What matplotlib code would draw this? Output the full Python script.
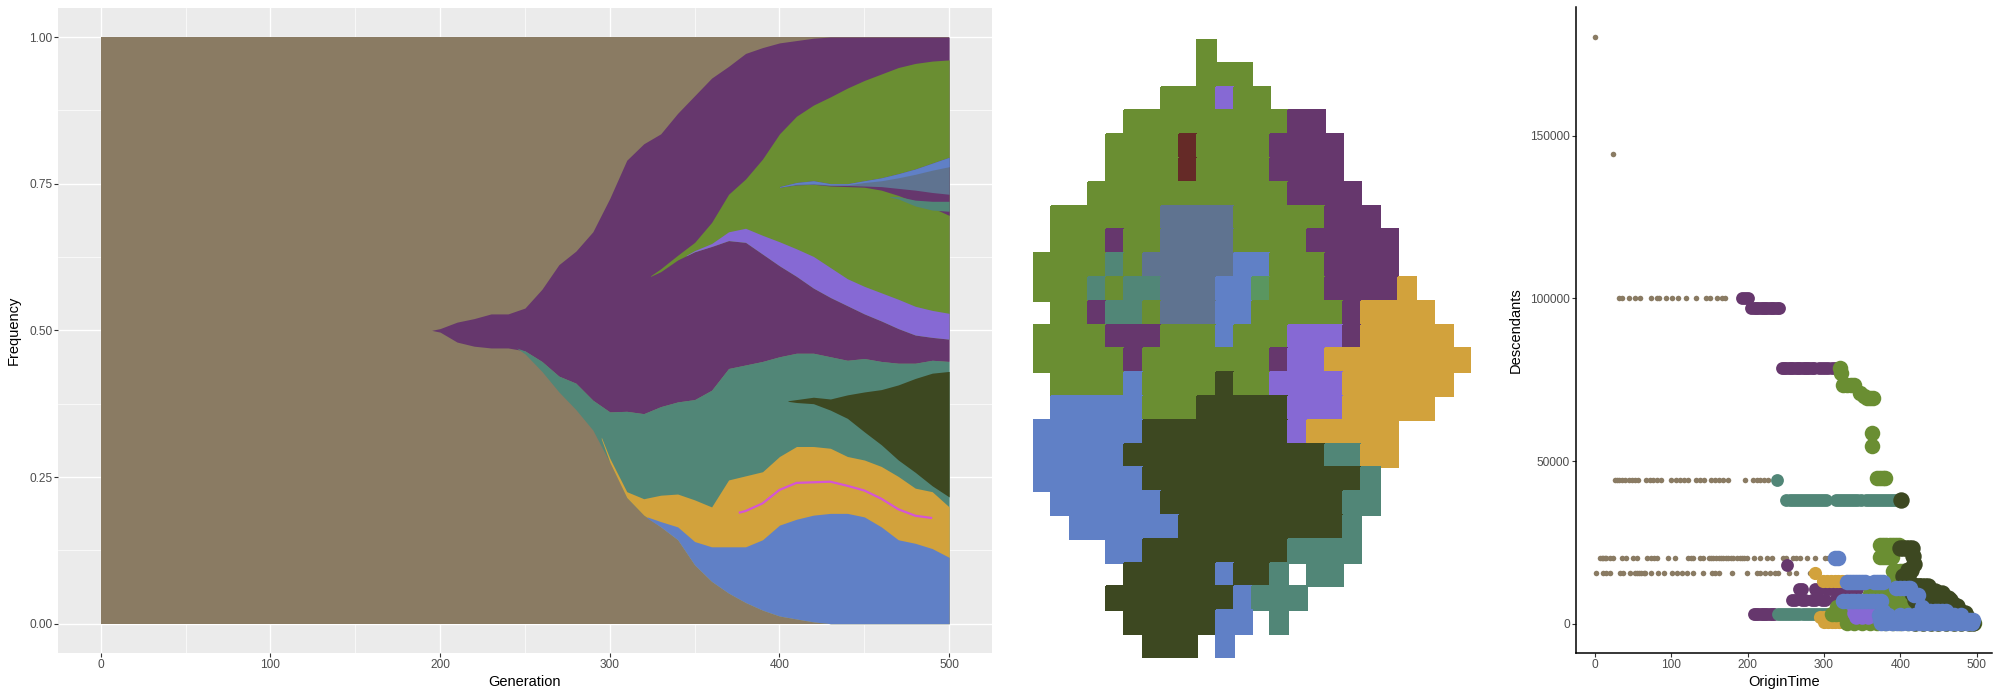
import numpy as np
import matplotlib
matplotlib.use("Agg")
from matplotlib import pyplot as plt
from matplotlib.colors import ListedColormap

plt.rcParams["font.family"] = ["Liberation Sans", "DejaVu Sans"]

# clone colours
c_tan = "#8A7B63"
c_purple = "#66376D"
c_teal = "#518677"
c_gold = "#D2A23C"
c_blue = "#6080C6"
c_dark = "#3D4821"
c_green = "#6A8E32"
c_lav = "#8669D4"
c_slate = "#5F7390"
c_red = "#652A27"
c_mgreen = "#5A9660"
c_magenta = "#D455D4"

# ---------------- Muller plot (frequency bands) ----------------
gen_purple = [195, 200, 210, 220, 230, 240, 250, 260, 270, 280, 290, 300, 310, 320, 330, 340,
              350, 360, 370, 380, 390, 400, 410, 420, 430, 440, 450, 460, 470, 480, 490, 500]
purple_lo = [0.500, 0.497, 0.480, 0.473, 0.470, 0.470, 0.465, 0.447, 0.422, 0.410, 0.381, 0.361,
             0.362, 0.358, 0.370, 0.378, 0.382, 0.398, 0.435, 0.441, 0.447, 0.455, 0.461, 0.461,
             0.455, 0.449, 0.452, 0.447, 0.444, 0.444, 0.449, 0.447]
purple_hi = [0.500, 0.503, 0.514, 0.520, 0.528, 0.528, 0.538, 0.570, 0.612, 0.635, 0.668, 0.725,
             0.790, 0.818, 0.835, 0.870, 0.900, 0.930, 0.950, 0.972, 0.982, 0.990, 0.994, 0.998,
             1.0, 1.0, 1.0, 1.0, 1.0, 1.0, 1.0, 1.0]

gen_teal = [245, 250, 260, 270, 280, 290, 300, 310, 320, 330, 340, 350, 360, 370, 380, 390,
            400, 410, 420, 430, 440, 450, 460, 470, 480, 490, 500]
teal_lo = [0.470, 0.460, 0.430, 0.395, 0.365, 0.330, 0.275, 0.215, 0.185, 0.165, 0.143, 0.100,
           0.072, 0.052, 0.036, 0.023, 0.013, 0.008, 0.003, 0, 0, 0, 0, 0, 0, 0, 0]
teal_hi = [0.470, 0.465, 0.447, 0.422, 0.410, 0.381, 0.361, 0.362, 0.358, 0.370, 0.378, 0.382,
           0.398, 0.435, 0.441, 0.447, 0.455, 0.461, 0.461, 0.455, 0.449, 0.452, 0.447, 0.444,
           0.444, 0.449, 0.447]

gen_gold = [295, 300, 310, 320, 330, 340, 350, 360, 370, 380, 390, 400, 410, 420, 430, 440,
            450, 460, 470, 480, 490, 500]
gold_lo = [0.315, 0.275, 0.215, 0.185, 0.165, 0.143, 0.100, 0.072, 0.052, 0.036, 0.023, 0.013,
           0.008, 0.003, 0, 0, 0, 0, 0, 0, 0, 0]
gold_hi = [0.318, 0.282, 0.225, 0.213, 0.219, 0.221, 0.211, 0.199, 0.245, 0.252, 0.259, 0.285,
           0.302, 0.302, 0.299, 0.285, 0.279, 0.268, 0.251, 0.231, 0.225, 0.199]

gen_blue = [322, 330, 340, 350, 360, 370, 380, 390, 400, 410, 420, 430, 440, 450, 460, 470,
            480, 490, 500]
blue_lo = [0.180, 0.165, 0.143, 0.100, 0.072, 0.052, 0.036, 0.023, 0.013, 0.008, 0.003,
           0, 0, 0, 0, 0, 0, 0, 0]
blue_hi = [0.182, 0.174, 0.165, 0.140, 0.131, 0.131, 0.131, 0.143, 0.168, 0.178, 0.185, 0.188,
           0.188, 0.182, 0.165, 0.143, 0.137, 0.128, 0.113]

gen_mag = [376, 380, 390, 400, 410, 420, 430, 440, 450, 460, 470, 480, 490]
mag_mid = [0.189, 0.192, 0.205, 0.228, 0.240, 0.241, 0.242, 0.235, 0.227, 0.213, 0.195, 0.184, 0.180]

gen_dark = [405, 410, 420, 430, 440, 450, 460, 470, 480, 490, 500]
dark_lo = [0.379, 0.377, 0.375, 0.364, 0.350, 0.327, 0.305, 0.279, 0.258, 0.235, 0.216]
dark_hi = [0.380, 0.382, 0.386, 0.383, 0.390, 0.395, 0.399, 0.407, 0.418, 0.427, 0.430]

gen_green = [324, 330, 340, 350, 360, 370, 380, 390, 400, 410, 420, 430, 440, 450, 460, 470,
             480, 490, 500]
green_lo = [0.592, 0.600, 0.620, 0.634, 0.643, 0.653, 0.650, 0.630, 0.610, 0.592, 0.572, 0.556,
            0.542, 0.528, 0.516, 0.503, 0.492, 0.488, 0.485]
green_hi = [0.593, 0.605, 0.628, 0.650, 0.684, 0.732, 0.758, 0.792, 0.835, 0.865, 0.884, 0.898,
            0.913, 0.926, 0.937, 0.948, 0.955, 0.959, 0.961]

gen_lav = [345, 350, 360, 370, 380, 390, 400, 410, 420, 430, 440, 450, 460, 470, 480, 490, 500]
lav_lo = [0.627, 0.634, 0.643, 0.653, 0.650, 0.630, 0.610, 0.592, 0.572, 0.556, 0.542, 0.528,
          0.516, 0.503, 0.492, 0.488, 0.485]
lav_hi = [0.628, 0.636, 0.648, 0.668, 0.674, 0.662, 0.651, 0.639, 0.626, 0.607, 0.588, 0.575,
          0.564, 0.553, 0.541, 0.534, 0.529]

gen_band = [400, 410, 420, 430, 440, 450, 460, 470, 480, 490, 500]
band_lo = [0.744, 0.748, 0.749, 0.746, 0.745, 0.744, 0.739, 0.730, 0.719, 0.709, 0.696]
band_hi = [0.745, 0.752, 0.755, 0.750, 0.750, 0.755, 0.760, 0.767, 0.775, 0.785, 0.795]
slate_lo = [0.744, 0.748, 0.749, 0.747, 0.747, 0.746, 0.745, 0.742, 0.739, 0.735, 0.732]
slate_hi = [0.744, 0.749, 0.750, 0.748, 0.748, 0.752, 0.755, 0.760, 0.766, 0.773, 0.779]

gen_teal2 = [465, 470, 480, 490, 500]
teal2_lo = [0.727, 0.724, 0.712, 0.705, 0.703]
teal2_hi = [0.728, 0.728, 0.722, 0.720, 0.720]

# ---------------- spatial grid (rows top to bottom) ----------------
grid_rows = [
    ".........G..............",
    ".........GGG............",
    ".......GGGLGG...........",
    ".....GGGGGGGGGPP........",
    "....GGGGRGGGGPPPP.......",
    "....GGGGRGGGGPPPP.......",
    "...GGGGGGGGGGGPPPP......",
    ".GGGGGGSSSSGGGGGPPP.....",
    ".GGGPGGSSSSGGGGPPPPP....",
    "GGGGTGSSSSSBBGGGPPPP....",
    "GGGTGTTSSSBBMGGGPPPPY...",
    ".GGPTTGSSSBBGGGGGPYYYY..",
    "GGGGPPPGGGBGGGLLLPYYYYY.",
    "GGGGGPGGGGGGGPLLYYYYYYYY",
    ".GGGGBGGGGDGGLLLLYYYYYY.",
    ".BBBBBGGGDDDDDLLLYYYYY..",
    "BBBBBBDDDDDDDDLYYYYY....",
    "BBBBBDDDDDDDDDDDTTYY....",
    "BBBBBBDDDDDDDDDDDDT.....",
    ".BBBBBBDDDDDDDDDDTT.....",
    "..BBBBBBDDDDDDDDDT......",
    "....BBDDDDDDDDTTTT......",
    ".....DDDDDBDDT.TT.......",
    "....DDDDDDDBTTT.........",
    ".....DDDDDBB.T..........",
    "......DDD.B.............",
]
grid_keys = "GPLSBTYDRM"
grid_colors = [c_green, c_purple, c_lav, c_slate, c_blue, c_teal, c_gold, c_dark, c_red, c_mgreen]

# ---------------- descendants vs origin time ----------------
tan_y = [180400, 144300, 100000, 44300, 20300, 15500]
tan_x = [
    [0],
    [24],
    [32, 35, 44, 52, 59, 73, 81, 84, 93, 101, 109, 119, 132, 146, 151, 160, 166, 171],
    [26, 29, 31, 35, 39, 44, 48, 52, 57, 67, 72, 76, 81, 87, 100, 106, 111, 117, 122, 133, 138,
     143, 152, 157, 162, 168, 175, 197, 207, 212, 216, 221, 227],
    [7, 9, 11, 13, 15, 20, 24, 35, 41, 50, 55, 68, 74, 78, 81, 96, 105, 122, 126, 129, 138, 142,
     149, 152, 155, 158, 162, 165, 168, 172, 175, 178, 181, 186, 190, 193, 195, 199, 208, 216,
     225, 232, 247, 250, 260, 264, 269, 278, 288, 302, 305],
    [1, 11, 14, 20, 33, 37, 46, 52, 55, 58, 61, 64, 66, 74, 83, 90, 101, 107, 114, 120, 129, 142,
     153, 157, 162, 179, 199, 212, 216, 223, 229, 236, 240, 254, 264, 282],
]
purple_y = [100000, 96900, 78500, 18250, 10600, 7500, 3000]
purple_x = [
    [193, 196, 200],
    [205, 208, 211, 214, 217, 220, 223, 226, 229, 232, 235, 238, 241],
    [245, 248, 251, 254, 257, 260, 263, 266, 269, 272, 275, 278, 281, 284, 287, 294, 298, 302,
     306, 310, 314],
    [252],
    [267, 271, 289, 293, 304, 308, 312, 316, 320, 324, 328, 332, 336, 340, 343],
    [258, 262, 271, 275, 284, 288, 297, 301, 315],
    [208, 211, 214, 217, 220, 223, 226, 229, 232, 235],
]
teal_y = [44300, 38100, 3000, 4000, 300]
teal_x = [
    [238],
    [251, 255, 259, 263, 267, 271, 275, 279, 283, 287, 291, 295, 299, 303, 316, 320, 324, 328,
     332, 336, 340, 344, 348, 355, 359, 363, 367, 371, 375, 379, 383, 387, 391, 395],
    [240, 244, 248, 252, 256, 260, 264, 268, 272, 276, 280, 284, 288, 292, 296, 300, 304, 308, 312],
    [474, 478, 482],
    [497],
]
gold_y = [15500, 13100, 9000, 5600, 2400, 2000, 500]
gold_x = [
    [288],
    [299, 304, 309, 314, 319, 324, 329],
    [374],
    [382, 390, 398, 406],
    [390, 395, 403, 410],
    [295, 300, 305, 310, 315, 320, 325, 330, 335, 340, 345, 350, 355, 360, 365, 370],
    [300, 305, 310, 315, 320, 325, 330, 335, 340, 345, 350, 355, 360, 365, 370, 380],
]
lav_y = [5000, 3500, 2200]
lav_x = [
    [340, 345, 350, 355, 360],
    [340, 345, 350, 355, 360],
    [342, 350, 358],
]
green_y = [78500, 77100, 73300, 70800, 70000, 69500, 58700, 54700, 44700, 24200, 20600, 16200,
           12000, 9300, 7000, 5200, 3000, 400]
green_x = [
    [321],
    [323],
    [325, 330, 335, 340],
    [347],
    [352],
    [356, 360, 364],
    [363],
    [363],
    [369, 373, 377, 380],
    [374, 378, 382, 386, 390, 394, 398],
    [373, 377, 381, 385, 389],
    [391, 395, 400, 404, 408],
    [370, 376, 382, 387, 392, 397, 402, 407],
    [360, 365, 370, 375, 380, 385, 390, 395, 400, 405],
    [380, 385, 390, 395, 400, 405, 410],
    [317, 322, 327, 332, 337, 342, 347, 352, 356, 380, 390, 400, 410, 420],
    [310, 316, 322, 328, 334, 340, 346, 352, 358, 364, 370, 380, 390, 400, 410, 420],
    [330, 340, 350, 360, 370, 380, 390, 400, 410, 420, 430, 440, 450, 460, 470, 480, 490, 497],
]
dark_y = [38100, 23200, 21000, 18400, 16500, 14800, 11500, 9500, 7500, 5500, 3500, 300]
dark_x = [
    [401],
    [400, 404, 408, 412, 416],
    [417],
    [418],
    [410, 414],
    [404, 410],
    [412, 416, 420, 424, 428, 432, 436],
    [415, 420, 425, 430, 435, 440, 445, 450, 455],
    [420, 425, 430, 435, 440, 445, 450, 455, 460, 465],
    [425, 430, 435, 440, 445, 450, 455, 460, 465, 470, 475],
    [430, 435, 440, 445, 450, 455, 460, 465, 470, 475, 480, 485],
    [420, 430, 440, 450, 460, 470, 480, 490, 495],
]
dark_diag_x = [408, 417, 425, 435, 445, 455, 462, 468, 475, 482, 488, 493]
dark_diag_y = [12800, 12000, 11500, 10800, 10000, 9300, 8000, 6500, 5000, 3500, 2200, 1000]
blue_y = [20200, 13000, 10900, 9000, 7000, 5200, 4000, 2600, 1300, 200]
blue_x = [
    [314, 319],
    [330, 334, 338, 342, 346, 350, 354, 366, 370, 374, 378],
    [395, 400, 405, 410, 413],
    [418, 423],
    [325, 330, 335, 340, 345, 350, 355, 360, 365, 370, 375],
    [428],
    [378, 439, 445, 450, 455, 460],
    [372, 378, 384, 400, 410, 420, 430, 440, 450, 460, 470, 480],
    [373, 380, 387, 394, 401, 408, 415, 422, 429, 436, 443, 450, 457, 464, 471, 478, 485, 492, 496],
    [375, 382, 389, 396, 403, 410, 417, 424, 431, 438, 445, 452, 459, 466, 473, 480, 487, 494],
]

# ---------------- figure ----------------
W, H = 2000, 700
fig = plt.figure(figsize=(20, 7), dpi=100)
tick_col = "#4D4D4D"
tick_fs = 8.6
title_fs = 10.5


def px_axes(left, top, right, bottom):
    return fig.add_axes([left / W, 1 - bottom / H, (right - left) / W, (bottom - top) / H])


# left: Muller plot
ax1 = px_axes(58.3, 7.7, 991.6, 653)
ax1.set_facecolor("#EBEBEB")
ax1.set_xlim(-25, 525)
ax1.set_ylim(-0.05, 1.05)
ax1.set_xticks([0, 100, 200, 300, 400, 500])
ax1.set_xticks([50, 150, 250, 350, 450], minor=True)
ax1.set_yticks([0, 0.25, 0.5, 0.75, 1.0])
ax1.set_yticks([0.125, 0.375, 0.625, 0.875], minor=True)
ax1.set_yticklabels(["0.00", "0.25", "0.50", "0.75", "1.00"])
ax1.grid(which="major", color="white", lw=1.0)
ax1.grid(which="minor", color="white", lw=0.5)
ax1.set_axisbelow(True)
for s in ax1.spines.values():
    s.set_visible(False)
ax1.tick_params(which="major", length=2.6, width=0.8, color="#333333",
                labelsize=tick_fs, labelcolor=tick_col, pad=1.8)
ax1.tick_params(which="minor", length=0)

ax1.fill_between([0, 500], [0, 0], [1, 1], color=c_tan, lw=0)
ax1.fill_between(gen_purple, purple_lo, purple_hi, color=c_purple, lw=0)
ax1.fill_between(gen_teal, teal_lo, teal_hi, color=c_teal, lw=0)
ax1.fill_between(gen_gold, gold_lo, gold_hi, color=c_gold, lw=0)
ax1.plot(gen_mag, mag_mid, color=c_magenta, lw=1.6, solid_capstyle="butt")
ax1.fill_between(gen_blue, blue_lo, blue_hi, color=c_blue, lw=0)
ax1.fill_between(gen_dark, dark_lo, dark_hi, color=c_dark, lw=0)
ax1.fill_between(gen_green, green_lo, green_hi, color=c_green, lw=0)
ax1.fill_between(gen_lav, lav_lo, lav_hi, color=c_lav, lw=0)
ax1.fill_between(gen_band, band_lo, band_hi, color=c_purple, lw=0)
ax1.fill_between(gen_band, slate_lo, band_hi, color=c_slate, lw=0)
ax1.fill_between(gen_band, slate_hi, band_hi, color=c_blue, lw=0)
ax1.fill_between(gen_teal2, teal2_lo, teal2_hi, color=c_teal, lw=0)

ax1.set_xlabel("Generation", fontsize=title_fs)
ax1.set_ylabel("Frequency", fontsize=title_fs)
ax1.xaxis.set_label_coords(0.5, -(675 - 653) / (653 - 7.7))
ax1.yaxis.set_label_coords((21 - 58.3) / (991.6 - 58.3), 0.5)

# middle: spatial grid
ax2 = px_axes(1033, 39, 1471, 657.8)
n_rows = len(grid_rows)
n_cols = len(grid_rows[0])
idx = np.full((n_rows, n_cols), -1)
for r, row in enumerate(grid_rows):
    for c, ch in enumerate(row):
        if ch in grid_keys:
            idx[r, c] = grid_keys.index(ch)
cells = np.ma.masked_less(idx, 0)
ax2.pcolormesh(np.arange(n_cols + 1), np.arange(n_rows + 1), cells,
               cmap=ListedColormap(grid_colors), vmin=-0.5, vmax=len(grid_colors) - 0.5,
               edgecolors="face", linewidth=0.3)
ax2.set_xlim(0, n_cols)
ax2.set_ylim(n_rows, 0)
ax2.axis("off")

# right: descendants scatter
ax3 = px_axes(1576, 7.3, 1992.4, 653.3)
ax3.set_xlim(-24.8, 520.8)
ax3.set_ylim(-9020, 189420)


def draw_rows(ys, xs, color, size):
    for yv, xrow in zip(ys, xs):
        ax3.scatter(xrow, [yv] * len(xrow), s=size, color=color, linewidths=0)


draw_rows(tan_y, tan_x, c_tan, 16)
draw_rows(purple_y, purple_x, c_purple, 85)
draw_rows(teal_y, teal_x, c_teal, 85)
draw_rows(gold_y, gold_x, c_gold, 90)
draw_rows(green_y, green_x, c_green, 125)
draw_rows(lav_y, lav_x, c_lav, 110)
draw_rows(dark_y, dark_x, c_dark, 140)
ax3.scatter(dark_diag_x, dark_diag_y, s=140, color=c_dark, linewidths=0)
draw_rows(blue_y, blue_x, c_blue, 125)

ax3.set_xticks([0, 100, 200, 300, 400, 500])
ax3.set_yticks([0, 50000, 100000, 150000])
ax3.set_yticklabels(["0", "50000", "100000", "150000"])
for side in ["top", "right"]:
    ax3.spines[side].set_visible(False)
for side in ["left", "bottom"]:
    ax3.spines[side].set_linewidth(1.1)
    ax3.spines[side].set_color("black")
ax3.tick_params(length=2.6, width=0.8, color="#333333",
                labelsize=tick_fs, labelcolor=tick_col, pad=1.8)
ax3.set_xlabel("OriginTime", fontsize=title_fs)
ax3.set_ylabel("Descendants", fontsize=title_fs)
ax3.xaxis.set_label_coords(0.5, -(675 - 653.3) / (653.3 - 7.3))
ax3.yaxis.set_label_coords((1523 - 1576) / (1992.4 - 1576), 0.5)

fig.savefig("out.png", dpi=100)
